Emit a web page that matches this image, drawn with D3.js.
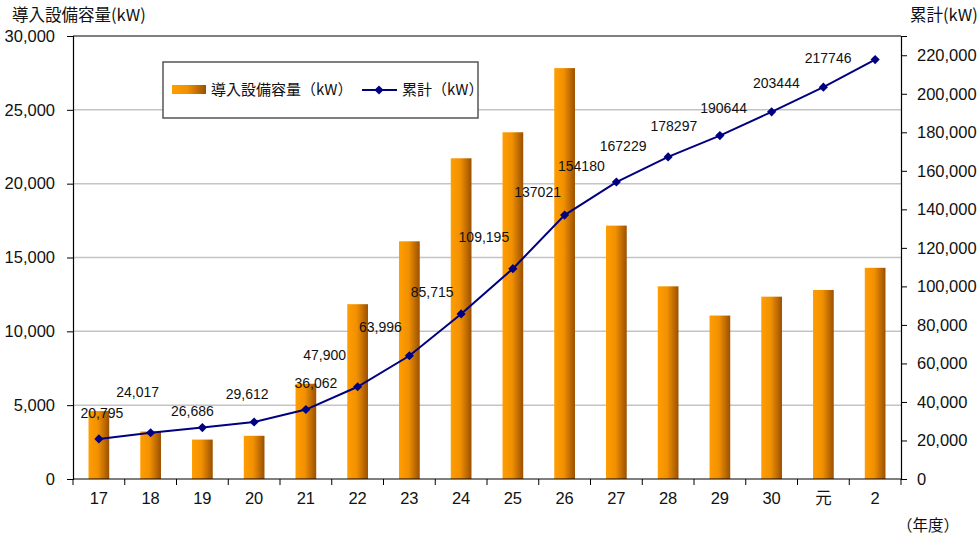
<!DOCTYPE html>
<html lang="ja">
<head>
<meta charset="UTF-8">
<title>導入設備容量と累計</title>
<script src="https://d3js.org/d3.v7.min.js"></script>
<style>
  body { margin: 0; background: #fff; }
  text { font-family: "Liberation Sans", Arial, "Noto Sans CJK JP", sans-serif; fill: #111; }
  .jp { font-family: "Noto Sans CJK JP", sans-serif; }
</style>
</head>
<body>
<div id="chart"></div>
<script>
// data
const years = ["17", "18", "19", "20", "21", "22", "23", "24", "25", "26", "27", "28", "29", "30", "元", "2"];
const capacity = [4600, 3222, 2669, 2926, 6450, 11838, 16096, 21719, 23480, 27826, 17159, 13049, 11068, 12347, 12800, 14302];
const cumulative = [20795, 24017, 26686, 29612, 36062, 47900, 63996, 85715, 109195, 137021, 154180, 167229, 178297, 190644, 203444, 217746];
const cumLabels = ["20,795", "24,017", "26,686", "29,612", "36,062", "47,900", "63,996", "85,715", "109,195",
  "137021", "154180", "167229", "178297", "190644", "203444", "217746"];
const leftTicks = [0, 5000, 10000, 15000, 20000, 25000, 30000];
const rightTicks = [0, 20000, 40000, 60000, 80000, 100000, 120000, 140000, 160000, 180000, 200000, 220000];

// where each data label sits relative to its marker (as placed in the original)
const labelShift = [[3, -26], [-13, -41], [-10, -17], [-7, -28], [10, -26], [-33, -32], [-29, -29], [-29, -22],
  [-29, -32], [-27, -23], [-35, -16], [-45, -11], [-46, -9], [-48, -4], [-47, -4], [-47, -2]];

const svgWidth = 979, svgHeight = 538;
const margin = { top: 36, right: 78, bottom: 59, left: 73 };
const width = svgWidth - margin.left - margin.right;
const height = svgHeight - margin.top - margin.bottom;

const root = d3.select("#chart").append("svg")
  .attr("width", svgWidth)
  .attr("height", svgHeight);

const defs = root.append("defs");
const grad = defs.append("linearGradient").attr("id", "barGrad")
  .attr("x1", "0%").attr("x2", "100%").attr("y1", "0%").attr("y2", "0%");
grad.append("stop").attr("offset", "0%").attr("stop-color", "#ff9d00");
grad.append("stop").attr("offset", "45%").attr("stop-color", "#f29100");
grad.append("stop").attr("offset", "100%").attr("stop-color", "#9a5000");

const svg = root.append("g").attr("transform", `translate(${margin.left},${margin.top})`);

// scales
const x = d3.scaleBand().domain(years).range([0, width]).paddingInner(0.6).paddingOuter(0.3);
const xCat = d3.scaleBand().domain(years).range([0, width]).padding(0);
const yL = d3.scaleLinear().domain([0, 30000]).range([height, 0]);
const yR = d3.scaleLinear().domain([0, 230000]).range([height, 0]);

// gridlines
svg.append("g")
  .selectAll("line")
  .data(leftTicks.slice(1, -1))
  .enter().append("line")
  .attr("x1", 0).attr("x2", width)
  .attr("y1", d => yL(d)).attr("y2", d => yL(d))
  .attr("stroke", "#c4c4c4").attr("stroke-width", 1.5);

// top border
svg.append("line")
  .attr("x1", 0).attr("x2", width).attr("y1", yL(30000)).attr("y2", yL(30000))
  .attr("stroke", "#000").attr("stroke-width", 1);

// bars
svg.append("g")
  .selectAll("rect")
  .data(capacity)
  .enter().append("rect")
  .attr("x", (d, i) => x(years[i]))
  .attr("width", x.bandwidth())
  .attr("y", d => yL(d))
  .attr("height", d => height - yL(d))
  .attr("fill", "url(#barGrad)");

// left axis
const axL = svg.append("g")
  .call(d3.axisLeft(yL).tickValues(leftTicks).tickSize(6).tickPadding(12).tickFormat(d3.format(",")));
axL.select(".domain").attr("stroke", "#000").attr("stroke-width", 1.2);
axL.selectAll(".tick line").attr("stroke", "#000");
axL.selectAll("text").style("font-size", "16.5px").attr("fill", "#111");

// right axis
const axR = svg.append("g")
  .attr("transform", `translate(${width},0)`)
  .call(d3.axisRight(yR).tickValues(rightTicks).tickSize(6).tickPadding(10).tickFormat(d3.format(",")));
axR.select(".domain").attr("stroke", "#000").attr("stroke-width", 1.2);
axR.selectAll(".tick line").attr("stroke", "#000");
axR.selectAll("text").style("font-size", "16.5px").attr("fill", "#111");

// x axis
const axX = svg.append("g").attr("transform", `translate(0,${height})`);
axX.append("line").attr("x1", 0).attr("x2", width).attr("stroke", "#000").attr("stroke-width", 1.2);
axX.selectAll(".tk")
  .data(d3.range(years.length + 1))
  .enter().append("line")
  .attr("x1", i => i * xCat.step()).attr("x2", i => i * xCat.step())
  .attr("y1", 0).attr("y2", 6)
  .attr("stroke", "#000");
axX.selectAll(".lbl")
  .data(years)
  .enter().append("text")
  .attr("class", d => d === "元" ? "jp" : null)
  .attr("x", d => xCat(d) + xCat.bandwidth() / 2)
  .attr("y", 25)
  .attr("text-anchor", "middle")
  .style("font-size", "16.5px")
  .text(d => d);

// cumulative line
const line = d3.line()
  .x((d, i) => xCat(years[i]) + xCat.bandwidth() / 2)
  .y(d => yR(d));

svg.append("path")
  .datum(cumulative)
  .attr("fill", "none")
  .attr("stroke", "#000080")
  .attr("stroke-width", 2)
  .attr("d", line);

const diamond = d3.symbol().type(d3.symbolSquare).size(42);
svg.append("g")
  .selectAll("path")
  .data(cumulative)
  .enter().append("path")
  .attr("d", diamond)
  .attr("fill", "#000080")
  .attr("transform", (d, i) => `translate(${xCat(years[i]) + xCat.bandwidth() / 2},${yR(d)}) rotate(45)`);

// data labels
svg.append("g")
  .selectAll("text")
  .data(cumulative)
  .enter().append("text")
  .attr("x", (d, i) => xCat(years[i]) + xCat.bandwidth() / 2 + labelShift[i][0])
  .attr("y", (d, i) => yR(d) + labelShift[i][1])
  .attr("dy", "0.35em")
  .attr("text-anchor", "middle")
  .style("font-size", "14px")
  .attr("fill", "#222")
  .text((d, i) => cumLabels[i]);

// axis titles
root.append("text").attr("class", "jp").attr("x", 12).attr("y", 21)
  .style("font-size", "16.5px").text("導入設備容量(kW)");
root.append("text").attr("class", "jp").attr("x", 910).attr("y", 21)
  .style("font-size", "16.5px").text("累計(kW)");
root.append("text").attr("class", "jp").attr("x", 897).attr("y", 531)
  .style("font-size", "15.5px").text("（年度）");

// legend
const lg = root.append("g").attr("transform", "translate(163,62)");
lg.append("rect").attr("width", 315).attr("height", 56)
  .attr("fill", "#fff").attr("stroke", "#555").attr("stroke-width", 1.5);
lg.append("rect").attr("x", 9).attr("y", 23).attr("width", 34).attr("height", 9).attr("fill", "url(#barGrad)");
lg.append("text").attr("class", "jp").attr("x", 48).attr("y", 33).style("font-size", "15px").text("導入設備容量（kW）");
lg.append("line").attr("x1", 199).attr("x2", 234).attr("y1", 28).attr("y2", 28)
  .attr("stroke", "#000080").attr("stroke-width", 2);
lg.append("path").attr("d", diamond).attr("fill", "#000080")
  .attr("transform", "translate(216,28) rotate(45)");
lg.append("text").attr("class", "jp").attr("x", 239).attr("y", 33).style("font-size", "15px").text("累計（kW）");
</script>
</body>
</html>
